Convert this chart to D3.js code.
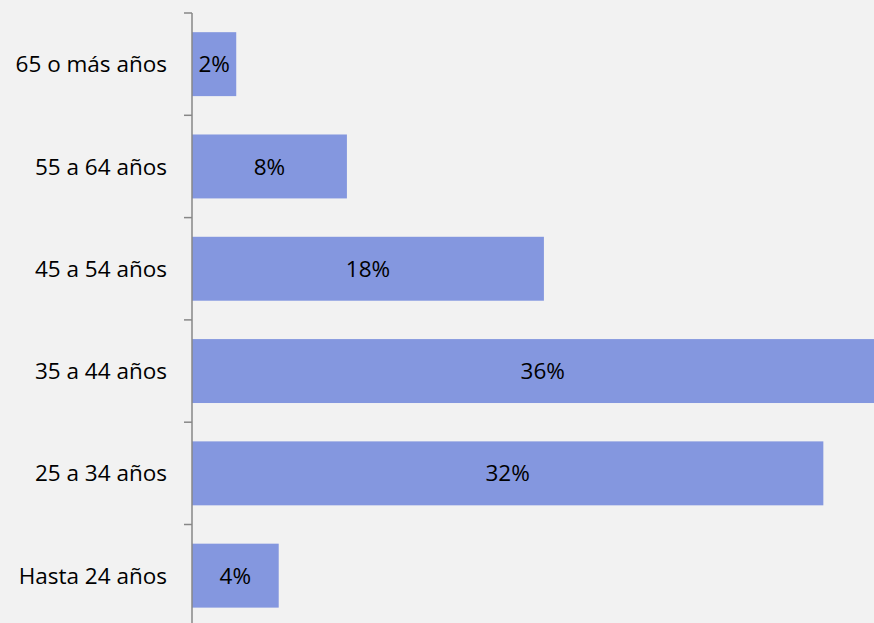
<!DOCTYPE html>
<html><head><meta charset="utf-8">
<script src="https://cdn.jsdelivr.net/npm/d3@7"></script>
<style>body{margin:0;background:#f2f2f2;} svg{display:block;}</style>
</head><body>
<script>
const categories = ["65 o más años","55 a 64 años","45 a 54 años","35 a 44 años","25 a 34 años","Hasta 24 años"];
const values = [2.27, 7.95, 18.06, 36.0, 32.4, 4.45];
const valueLabels = ["2%","8%","18%","36%","32%","4%"];

const W = 874, H = 623;
const svg = d3.select("body").append("svg").attr("width", W).attr("height", H)
  .style("font-family", "'Open Sans', sans-serif");
svg.append("rect").attr("width", W).attr("height", H).attr("fill", "#f2f2f2");

const x0 = 192;
const y = d3.scaleBand().domain(categories).range([13, 13 + 102.3 * 6]).paddingInner(0.375).paddingOuter(0.1875);
const x = d3.scaleLinear().domain([0, 35]).range([x0, W]);

const g = svg.append("g");
g.selectAll("rect.bar").data(categories).join("rect")
  .attr("class", "bar")
  .attr("x", x(0))
  .attr("y", d => y(d))
  .attr("width", (d, i) => x(values[i]) - x(0))
  .attr("height", y.bandwidth())
  .attr("fill", "#8497df");

g.selectAll("text.val").data(categories).join("text")
  .attr("class", "val")
  .attr("x", (d, i) => (x(0) + x(values[i])) / 2)
  .attr("y", d => y(d) + y.bandwidth() / 2)
  .attr("dy", "0.36em")
  .attr("text-anchor", "middle")
  .attr("font-size", 22.5)
  .attr("fill", "#000")
  .text((d, i) => valueLabels[i]);

// axis
const step = y.step();
const tickYs = d3.range(0, 7).map(i => 13 + i * step);
g.append("line").attr("x1", x0).attr("x2", x0).attr("y1", 13).attr("y2", H)
  .attr("stroke", "#878787").attr("stroke-width", 1.5);
g.selectAll("line.tick").data(tickYs).join("line").attr("class", "tick")
  .attr("x1", x0 - 8).attr("x2", x0).attr("y1", d => d).attr("y2", d => d)
  .attr("stroke", "#878787").attr("stroke-width", 1.5);

g.selectAll("text.cat").data(categories).join("text")
  .attr("class", "cat")
  .attr("x", 167)
  .attr("y", d => y(d) + y.bandwidth() / 2)
  .attr("dy", "0.36em")
  .attr("text-anchor", "end")
  .attr("font-size", 22.5)
  .attr("fill", "#000")
  .text(d => d);
</script>
</body></html>
